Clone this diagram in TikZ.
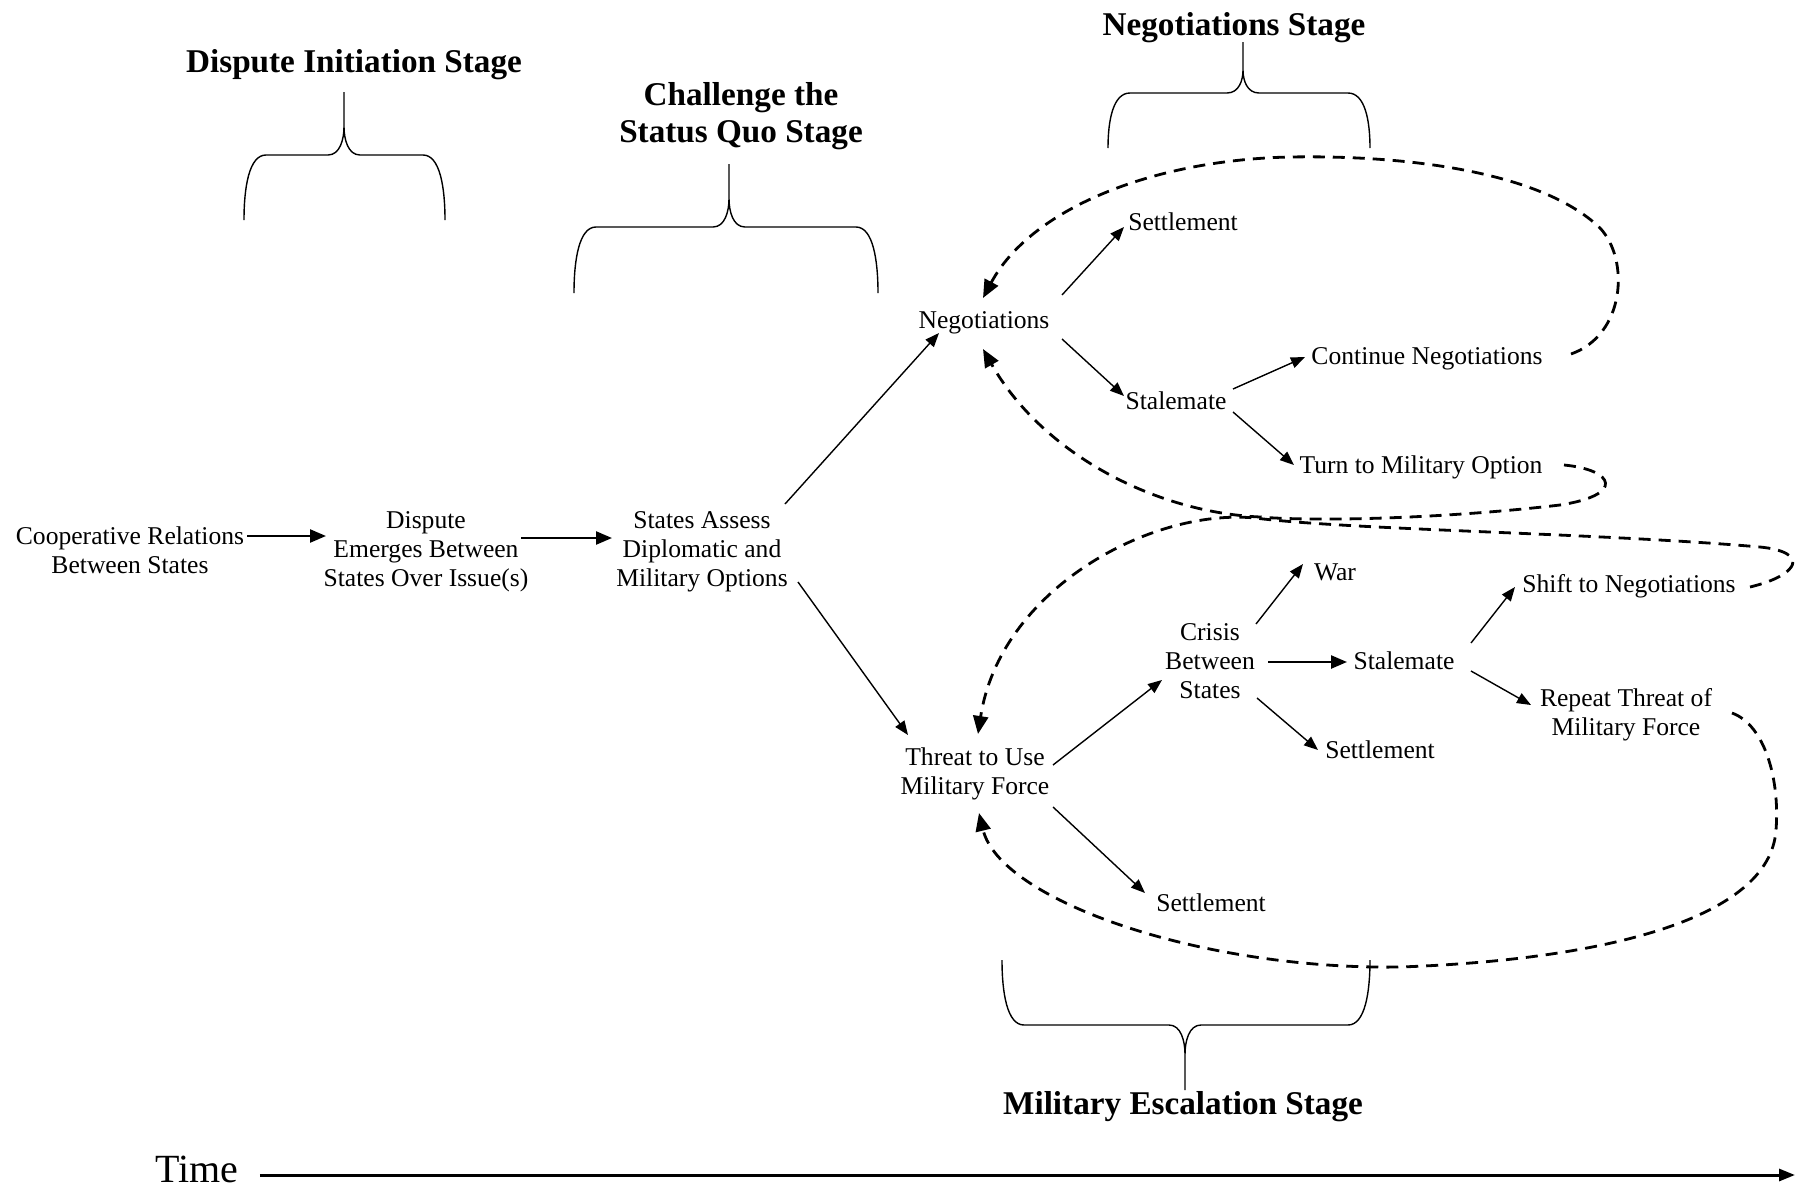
\documentclass[tikz,border=0pt]{standalone}
\usepackage{fontspec}
\setmainfont{Liberation Serif}
\usetikzlibrary{arrows.meta,calc}

\tikzset{
  lbl/.style={font=\fontsize{12.8}{14.5}\selectfont, align=center, inner sep=1pt},
  stagettl/.style={font=\fontsize{16.6}{18.5}\selectfont\bfseries, align=center, inner sep=1pt},
  conn/.style={line width=0.7pt, -{Triangle[length=7pt,width=5.5pt]}},
  mainconn/.style={line width=1.2pt, -{Triangle[length=8pt,width=6.5pt]}},
  loopback/.style={line width=1.4pt, dash pattern=on 6pt off 4pt, -{Triangle[length=9pt,width=7.5pt]}},
  brace/.style={line width=0.7pt},
  timeaxis/.style={line width=1.5pt, -{Triangle[length=8pt,width=6pt]}},
}

% curly brace: left x, right x, leg end y, bar y, tip x, tip y
\newcommand{\stagebrace}[6]{%
  \draw[brace] (#1,#3) .. controls (#1,{#4+0.5*(#3-#4)}) and ({#1+5},#4) .. ({#1+22},#4)
    -- ({#5-16},#4) .. controls ({#5-4},#4) and (#5,{#4+0.25*(#6-#4)}) .. (#5,{#4+0.45*(#6-#4)})
    -- (#5,#6) -- (#5,{#4+0.45*(#6-#4)})
    .. controls (#5,{#4+0.25*(#6-#4)}) and ({#5+4},#4) .. ({#5+16},#4)
    -- ({#2-22},#4) .. controls ({#2-5},#4) and (#2,{#4+0.5*(#3-#4)}) .. (#2,#3);}

\begin{document}
\begin{tikzpicture}[x=0.5pt,y=-0.5pt]
\useasboundingbox (0,0) rectangle (1795,1189);

% stage headings and braces
\node[stagettl] (tdi)  at (354,65) {Dispute Initiation Stage};
\node[stagettl] (tcsq) at (741,116) {Challenge the\\Status Quo Stage};
\node[stagettl] (tneg) at (1234,28) {Negotiations Stage};
\node[stagettl] (tmil) at (1183,1107) {Military Escalation Stage};
\stagebrace{244}{445}{220}{155}{344}{92}
\stagebrace{574}{878}{293}{227}{729}{164}
\stagebrace{1108}{1370}{148}{93}{1243}{42}
\stagebrace{1002}{1370}{960}{1025}{1185}{1090}

% event nodes
\node[lbl] (coop)    at (130,550)  {Cooperative Relations\\Between States};
\node[lbl] (dispute) at (426,552)  {Dispute\\Emerges Between\\States Over Issue(s)};
\node[lbl] (assess)  at (702,552)  {States Assess\\Diplomatic and\\Military Options};
\node[lbl] (neg)     at (984,323)  {Negotiations};
\node[lbl] (set1)    at (1183,222) {Settlement};
\node[lbl] (stal1)   at (1176,401) {Stalemate};
\node[lbl] (contneg) at (1427,359) {Continue Negotiations};
\node[lbl] (turnmil) at (1421,467) {Turn to Military Option};
\node[lbl] (threat)  at (975,774)  {Threat to Use\\Military Force};
\node[lbl] (crisis)  at (1210,661) {Crisis\\Between\\States};
\node[lbl] (war)     at (1335,572) {War};
\node[lbl] (stal2)   at (1404,661) {Stalemate};
\node[lbl] (shift)   at (1629,586) {Shift to Negotiations};
\node[lbl] (repeat)  at (1626,715) {Repeat Threat of\\Military Force};
\node[lbl] (set2)    at (1380,750) {Settlement};
\node[lbl] (set3)    at (1211,903) {Settlement};

% forward connectors
\draw[mainconn] ($(coop)+(117,-14)$) -- ($(dispute)+(-100,-16)$);
\draw[mainconn] ($(dispute)+(95,-14)$) -- ($(assess)+(-90,-14)$);
\draw[conn] ($(assess)+(83,-48)$) -- ($(neg)+(-45,10)$);
\draw[conn] ($(assess)+(96,30)$) -- ($(threat)+(-67,-39)$);
\draw[conn] ($(neg)+(78,-28)$) -- ($(set1)+(-59,5)$);
\draw[conn] ($(neg)+(78,16)$) -- ($(stal1)+(-52,-5)$);
\draw[conn] ($(stal1)+(57,-12)$) -- ($(contneg)+(-122,-2)$);
\draw[conn] ($(stal1)+(57,11)$) -- ($(turnmil)+(-127,-2)$);
\draw[conn] ($(threat)+(78,-9)$) -- ($(crisis)+(-48,19)$);
\draw[conn] ($(threat)+(78,33)$) -- ($(set3)+(-66,-10)$);
\draw[conn] ($(crisis)+(46,-37)$) -- ($(war)+(-32,-8)$);
\draw[mainconn] ($(crisis)+(58,1)$) -- ($(stal2)+(-57,1)$);
\draw[conn] ($(crisis)+(47,37)$) -- ($(set2)+(-62,0)$);
\draw[conn] ($(stal2)+(67,-18)$) -- ($(shift)+(-114,1)$);
\draw[conn] ($(stal2)+(67,10)$) -- ($(repeat)+(-95,-10)$);

% feedback loops
\draw[loopback] ($(contneg)+(144,-5)$)
  .. controls (1625,335) and (1630,260) .. (1600,228)
  .. controls (1540,170) and (1400,155) .. (1290,157)
  .. controls (1150,160) and (1030,210) .. ($(neg)+(-1,-25)$);
\draw[loopback] ($(turnmil)+(143,-2)$)
  .. controls (1615,470) and (1625,495) .. (1560,505)
  .. controls (1450,518) and (1320,522) .. (1260,517)
  .. controls (1150,512) and (1040,450) .. ($(neg)+(-1,26)$);
\draw[loopback] ($(shift)+(121,1)$)
  .. controls (1800,575) and (1810,552) .. (1760,547)
  .. controls (1600,533) and (1350,530) .. (1255,518)
  .. controls (1150,508) and (1000,590) .. ($(threat)+(3,-40)$);
\draw[loopback] ($(repeat)+(106,-2)$)
  .. controls (1765,725) and (1780,780) .. (1776,830)
  .. controls (1770,920) and (1600,960) .. (1400,967)
  .. controls (1200,970) and (1000,900) .. ($(threat)+(4,39)$);

% time axis
\node[font=\fontsize{20}{24}\selectfont, inner sep=0pt] (time) at (197,1169) {Time};
\coordinate (tend) at (1795,1175);
\draw[timeaxis] ($(time.east)+(21,6)$) -- (tend);
\end{tikzpicture}
\end{document}
